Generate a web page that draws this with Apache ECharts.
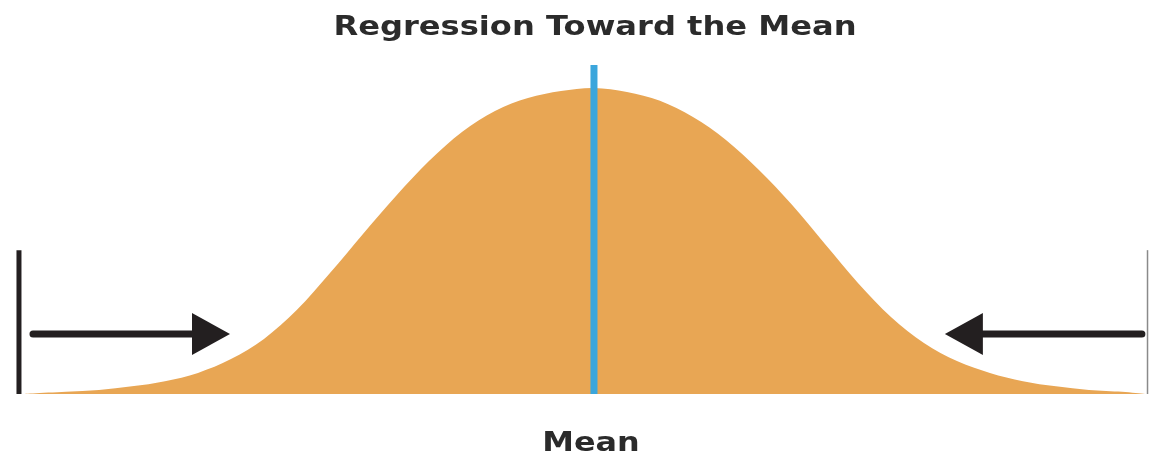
<!DOCTYPE html>
<html>
<head>
<meta charset="utf-8">
<script src="https://cdn.jsdelivr.net/npm/echarts@6/dist/echarts.min.js"></script>
<style>
html,body{margin:0;padding:0;background:#fff;}
#chart{width:1149px;height:461px;}
</style>
</head>
<body>
<div id="chart"></div>
<script>
// Curve: x as distance from the mean (chart units), height as % of the peak
const curveZ = [-3.48, -3.4, -3.2, -3.0, -2.8, -2.6, -2.4, -2.2, -2.0, -1.8, -1.6, -1.4, -1.2, -1.0, -0.8, -0.6, -0.4, -0.2, 0,
                0.2, 0.4, 0.6, 0.8, 1.0, 1.2, 1.4, 1.6, 1.8, 2.0, 2.2, 2.4, 2.6, 2.8, 3.0, 3.2, 3.34];
const curveH = [0, 0.2, 0.7, 1.3, 2.5, 4.2, 6.9, 11.4, 18.0, 27.5, 39.5, 52.3, 64.7, 76.1, 85.6, 92.5, 96.7, 99.0, 100,
                98.7, 95.8, 90.5, 83.0, 73.2, 61.8, 49.0, 36.3, 25.2, 16.7, 10.8, 6.9, 4.2, 2.5, 1.3, 0.7, 0];
const meanZ = 0;
const meanTop = 107.5;
const titleText = 'Regression Toward the Mean';
const meanLabel = 'Mean';
// Boundary lines: [x, top height]
const boundLeft = [-3.485, 47];
const boundRight = [3.355, 47];
// Arrows: [start x, tip x, height]
const arrows = [[-3.4, -2.206, 19.6], [3.321, 2.127, 19.6]];

const chart = echarts.init(document.getElementById('chart'));
const curveData = curveZ.map((z, i) => [z, curveH[i]]);

// Smooth filled curve through the data points (Catmull-Rom in screen space, via the axes' coord())
function renderCurve(params, api) {
  const pts = curveData.map(d => api.coord(d));
  const n = pts.length;
  const P = i => pts[Math.max(0, Math.min(n - 1, i))];
  let d = 'M' + pts[0][0] + ' ' + pts[0][1];
  for (let i = 0; i < n - 1; i++) {
    const p0 = P(i - 1), p1 = P(i), p2 = P(i + 1), p3 = P(i + 2);
    const c1x = p1[0] + (p2[0] - p0[0]) / 6, c1y = p1[1] + (p2[1] - p0[1]) / 6;
    const c2x = p2[0] - (p3[0] - p1[0]) / 6, c2y = p2[1] - (p3[1] - p1[1]) / 6;
    d += ' C' + c1x + ' ' + c1y + ' ' + c2x + ' ' + c2y + ' ' + p2[0] + ' ' + p2[1];
  }
  const bEnd = api.coord([curveZ[n - 1], 0]);
  const bStart = api.coord([curveZ[0], 0]);
  d += ' L' + bEnd[0] + ' ' + bEnd[1] + ' L' + bStart[0] + ' ' + bStart[1] + ' Z';
  return {type: 'path', shape: {pathData: d}, style: {fill: '#E8A654', stroke: null}};
}

chart.setOption({
  animation: false,
  backgroundColor: '#ffffff',
  grid: {left: 0, right: 0, top: 65, bottom: 67},
  xAxis: {type: 'value', min: -3.6, max: 3.364, show: false},
  yAxis: {type: 'value', min: 0, max: 107.5, show: false},
  graphic: [
    {type: 'text', x: 595, y: 28, scaleX: 1.19, z: 10,
     style: {text: titleText, font: 'bold 27px "DejaVu Sans"', fill: '#2b2b2b', textAlign: 'center', textVerticalAlign: 'middle'}},
    {type: 'text', x: 591, y: 444, scaleX: 1.18, z: 10,
     style: {text: meanLabel, font: 'bold 27px "DejaVu Sans"', fill: '#2b2b2b', textAlign: 'center', textVerticalAlign: 'middle'}}
  ],
  series: [
    {
      type: 'custom',
      clip: false,
      z: 2,
      data: [curveData[0]],
      renderItem: renderCurve
    },
    {
      type: 'custom',
      clip: false,
      z: 3,
      data: [[boundLeft[0], boundLeft[1], 0], [boundRight[0], boundRight[1], 1], [meanZ, meanTop, 2]],
      renderItem: function (params, api) {
        const p0 = api.coord([api.value(0), 0]);
        const p1 = api.coord([api.value(0), api.value(1)]);
        const kind = api.value(2);
        const styles = [
          {stroke: '#231f20', lineWidth: 5},
          {stroke: '#8a8a8a', lineWidth: 1.5},
          {stroke: '#3BA6DC', lineWidth: 7}
        ];
        return {
          type: 'line',
          shape: {x1: p0[0], y1: p0[1], x2: p1[0], y2: p1[1]},
          style: styles[kind]
        };
      }
    },
    {
      type: 'custom',
      clip: false,
      z: 4,
      data: arrows,
      renderItem: function (params, api) {
        const y = api.value(2);
        const p0 = api.coord([api.value(0), y]);
        const p1 = api.coord([api.value(1), y]);
        const dir = p1[0] > p0[0] ? 1 : -1;
        const headLen = 38, headHalf = 21;
        const bx = p1[0] - dir * headLen;
        return {
          type: 'group',
          children: [
            {type: 'line', shape: {x1: p0[0], y1: p0[1], x2: bx + dir * 2, y2: p1[1]},
             style: {stroke: '#231f20', lineWidth: 7, lineCap: 'round'}},
            {type: 'polygon', shape: {points: [[p1[0], p1[1]], [bx, p1[1] - headHalf], [bx, p1[1] + headHalf]]},
             style: {fill: '#231f20'}}
          ]
        };
      }
    }
  ]
});
</script>
</body>
</html>
